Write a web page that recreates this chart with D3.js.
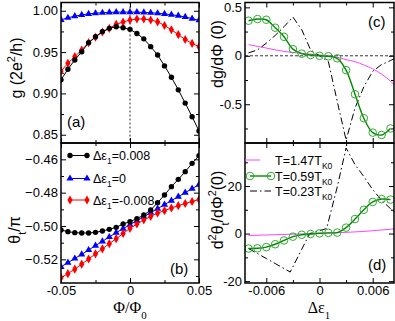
<!DOCTYPE html>
<html lang="en">
<head>
<meta charset="UTF-8">
<title>g and theta vs flux</title>
<style>
  body { margin: 0; background: #fff; }
  svg text { font-family: "Liberation Sans", Arial, sans-serif; }
</style>
</head>
<body>
<div class="chart"></div>
<script src="https://d3js.org/d3.v7.min.js"></script>
<script type="text/javascript">
// ---- data ----
var phi = [-0.05, -0.045, -0.04, -0.035, -0.03, -0.025, -0.02, -0.015, -0.01, -0.005, 0,
    0.005, 0.01, 0.015, 0.02, 0.025, 0.03, 0.035, 0.04, 0.045, 0.05];

// panel (a) conductance g
var gPos = [0.9164, 0.9293, 0.9405, 0.9505, 0.9614, 0.9686, 0.9748, 0.9787, 0.9807, 0.9795, 0.9775,
    0.9725, 0.966, 0.9566, 0.9465, 0.9333, 0.9196, 0.9043, 0.8883, 0.8718, 0.8545];
var gZero = [0.989, 0.9915, 0.9935, 0.995, 0.9962, 0.997, 0.9976, 0.998, 0.9983, 0.9984, 0.9984,
    0.9983, 0.998, 0.9976, 0.997, 0.9962, 0.9952, 0.994, 0.9925, 0.9905, 0.9885];
var gNeg = [0.927, 0.9365, 0.9445, 0.9526, 0.9614, 0.9679, 0.9743, 0.9787, 0.9836, 0.9864, 0.9888,
    0.990, 0.990, 0.9888, 0.9866, 0.9822, 0.977, 0.9712, 0.9652, 0.9605, 0.9565];

// panel (b) transmission phase theta_t / pi
var thPos = [-0.5024, -0.5034, -0.504, -0.5042, -0.5042, -0.5038, -0.503, -0.502, -0.5008, -0.4988, -0.4974,
    -0.4956, -0.4934, -0.4904, -0.486, -0.4814, -0.4764, -0.472, -0.4674, -0.4624, -0.4578];
var thZero = [-0.5245, -0.522, -0.5195, -0.517, -0.5144, -0.5118, -0.5092, -0.5066, -0.504, -0.5016, -0.4992,
    -0.4968, -0.4944, -0.492, -0.4896, -0.4872, -0.4848, -0.4824, -0.48, -0.4776, -0.4752];
var thNeg = [-0.531, -0.5286, -0.5259, -0.5229, -0.5198, -0.5167, -0.5137, -0.5106, -0.5076, -0.5045, -0.5014,
    -0.4988, -0.4963, -0.4943, -0.4922, -0.4908, -0.4892, -0.4878, -0.4865, -0.4853, -0.4841];

var legendB = ["0.008", "0", "-0.008"];

// panels (c), (d) vs level detuning
var eps = [-0.008, -0.007, -0.006, -0.005, -0.004, -0.003, -0.002, -0.001, 0,
    0.001, 0.002, 0.003, 0.004, 0.005, 0.006, 0.007, 0.008];
var dgMid = [0.362, 0.379, 0.372, 0.29, 0.196, 0.069, 0.022, 0.008, 0.0,
    -0.005, -0.026, -0.148, -0.396, -0.644, -0.793, -0.817, -0.75];
var d2Mid = [-6.3, -6.2, -5.7, -4.5, -2.9, -1.3, -0.5, -0.2, 0.1,
    0.3, 0.4, 2.5, 6.1, 10.0, 13.3, 14.5, 14.3];

var epsHot = [-0.008, -0.006, -0.004, -0.002, 0, 0.002, 0.003, 0.004, 0.005, 0.006, 0.007, 0.008, 0.0084];
var dgHot = [0.115, 0.08, 0.045, 0.025, 0.008, -0.015, -0.04, -0.06, -0.095, -0.135, -0.19, -0.26, -0.295];
var d2Hot = [-0.8, -0.6, -0.4, -0.15, 0.1, 0.35, 0.5, 0.7, 0.9, 1.2, 1.5, 1.8, 2.0];

var epsCold = [-0.008, -0.007, -0.006, -0.005, -0.004, -0.003, -0.002, -0.001, 0,
    0.001, 0.002, 0.003, 0.004, 0.005, 0.006, 0.007, 0.008, 0.0084];
var dgCold = [0.03, 0.06, 0.13, 0.21, 0.30, 0.40, 0.27, 0.06, 0.0,
    -0.06, -0.47, -0.87, -0.54, -0.32, -0.16, -0.09, -0.05, -0.03];
var epsCold2 = [-0.008, -0.007, -0.006, -0.005, -0.004, -0.0033, -0.002, -0.0011, 0,
    0.0008, 0.002, 0.003, 0.004, 0.005, 0.006, 0.007, 0.008, 0.0084];
var d2Cold = [-6.3, -8.4, -10.5, -12.6, -14.7, -16.2, -6.6, 0, 1.2,
    2.1, 19.6, 36, 29, 24, 18.5, 14, 10.5, 9];

var legendD = ["1.47", "0.59", "0.23"];

// ---- layout ----
var width = 395, height = 321;
var leftX = [61, 199], rightX = [245, 394];
var topY = [2.5, 143], botY = [143, 283];

var svg = d3.select(".chart").append("svg")
    .attr("width", width)
    .attr("height", height);

var xPhi = d3.scaleLinear().domain([-0.05, 0.05]).range(leftX);
var xEps = d3.scaleLinear().domain([-0.0084, 0.0084]).range(rightX);
var yA = d3.scaleLinear().domain([0.84, 1.01]).range([topY[1], topY[0]]);
var yB = d3.scaleLinear().domain([-0.5342, -0.4502]).range([botY[1], botY[0]]);
var yC = d3.scaleLinear().domain([-0.9, 0.55]).range([topY[1], topY[0]]);
var yD = d3.scaleLinear().domain([-20.8, 38.1]).range([botY[1], botY[0]]);

var fmt2 = d3.format(".2f");
function fmtPlain(d) { return d === 0 ? "0" : String(d); }

function rich(t, parts, fs) {
    var cur = 0;
    parts.forEach(function(p) {
        var s = p[1] || 0;
        var target = s > 0 ? fs * 0.35 : (s < 0 ? -fs * 0.42 : 0);
        t.append("tspan")
            .attr("dy", (target - cur).toFixed(2))
            .attr("font-size", s ? fs * 0.68 : fs)
            .text(p[0]);
        cur = target;
    });
}

function panel(id, x, y, opt) {
    var g = svg.append("g");
    var x0 = x.range()[0], x1 = x.range()[1];
    var y0 = y.range()[1], y1 = y.range()[0];

    svg.append("clipPath").attr("id", "clip" + id)
        .append("rect").attr("x", x0).attr("y", y0).attr("width", x1 - x0).attr("height", y1 - y0);

    // ticks on all four sides, pointing in
    function ax(gen, tr, vals, size, labels) {
        var a = gen.tickValues(vals).tickSizeInner(-size).tickSizeOuter(0).tickPadding(3)
            .tickFormat(labels ? labels : "");
        var s = g.append("g").attr("transform", tr).call(a);
        s.select(".domain").remove();
        s.selectAll("line").attr("stroke", "#000").attr("stroke-width", 1);
        s.selectAll("text").attr("font-size", 13).attr("fill", "#000");
        return s;
    }
    ax(d3.axisLeft(y), "translate(" + x0 + ",0)", opt.yMajor, 5, opt.yFmt);
    ax(d3.axisLeft(y), "translate(" + x0 + ",0)", opt.yMinor, 3, null);
    ax(d3.axisRight(y), "translate(" + x1 + ",0)", opt.yMajor, 5, null);
    ax(d3.axisRight(y), "translate(" + x1 + ",0)", opt.yMinor, 3, null);
    ax(d3.axisTop(x), "translate(0," + y0 + ")", opt.xMajor, 5, null);
    ax(d3.axisTop(x), "translate(0," + y0 + ")", opt.xMinor, 3, null);
    ax(d3.axisBottom(x), "translate(0," + y1 + ")", opt.xMajor, 5, opt.xFmt);
    ax(d3.axisBottom(x), "translate(0," + y1 + ")", opt.xMinor, 3, null);

    var plot = svg.append("g").attr("clip-path", "url(#clip" + id + ")");
    svg.append("rect").attr("x", x0).attr("y", y0).attr("width", x1 - x0).attr("height", y1 - y0)
        .attr("fill", "none").attr("stroke", "#000").attr("stroke-width", 1.5);
    return plot;
}

function series(plot, x, y, xs, ys, color, sym, curve, dash, lw) {
    var pts = xs.map(function(d, i) { return [d, ys[i]]; });
    var line = d3.line().x(function(d) { return x(d[0]); }).y(function(d) { return y(d[1]); })
        .curve(curve || d3.curveLinear);
    plot.append("path").datum(pts).attr("d", line)
        .attr("fill", "none").attr("stroke", color).attr("stroke-width", lw || 1)
        .attr("stroke-dasharray", dash || null);
    if (sym) drawSym(plot, pts.map(function(d) { return [x(d[0]), y(d[1])]; }), sym);
}

function drawSym(g, pts, sym) {
    pts.forEach(function(p) {
        if (sym === "circle") {
            g.append("circle").attr("cx", p[0]).attr("cy", p[1]).attr("r", 2.7).attr("fill", "#000");
        } else if (sym === "ring") {
            g.append("circle").attr("cx", p[0]).attr("cy", p[1]).attr("r", 3.8)
                .attr("fill", "none").attr("stroke", "#33aa33").attr("stroke-width", 1);
        } else if (sym === "tri") {
            g.append("path").attr("transform", "translate(" + p[0] + "," + p[1] + ")")
                .attr("d", d3.symbol(d3.symbolTriangle, 22)()).attr("fill", "#0000ff");
        } else if (sym === "diamond") {
            g.append("path").attr("transform", "translate(" + p[0] + "," + p[1] + ")")
                .attr("d", d3.symbol(d3.symbolDiamond, 24)()).attr("fill", "#ff0000");
        }
    });
}

// ---- panel (a) ----
var pA = panel("a", xPhi, yA, {
    yMajor: [0.85, 0.90, 0.95, 1.00], yMinor: [0.875, 0.925, 0.975], yFmt: fmt2,
    xMajor: [-0.05, 0, 0.05], xMinor: [-0.025, 0.025], xFmt: ""
});
pA.append("line").attr("x1", xPhi(0)).attr("x2", xPhi(0)).attr("y1", topY[0]).attr("y2", topY[1])
    .attr("stroke", "#000").attr("stroke-width", 0.8).attr("stroke-dasharray", "2,2");
series(pA, xPhi, yA, phi, gZero, "#0000ff", "tri");
series(pA, xPhi, yA, phi, gNeg, "#ff0000", "diamond");
series(pA, xPhi, yA, phi, gPos, "#000", "circle");

// ---- panel (b) ----
var pB = panel("b", xPhi, yB, {
    yMajor: [-0.52, -0.50, -0.48, -0.46], yMinor: [-0.53, -0.51, -0.49, -0.47], yFmt: fmt2,
    xMajor: [-0.05, 0, 0.05], xMinor: [-0.025, 0.025], xFmt: fmtPlain
});
series(pB, xPhi, yB, phi, thZero, "#0000ff", "tri");
series(pB, xPhi, yB, phi, thNeg, "#ff0000", "diamond");
series(pB, xPhi, yB, phi, thPos, "#000", "circle");

var legB = [["#000", "circle"], ["#0000ff", "tri"], ["#ff0000", "diamond"]];
var legBy = [155.5, 178.5, 200];
legB.forEach(function(l, i) {
    svg.append("line").attr("x1", 70).attr("x2", 87).attr("y1", legBy[i]).attr("y2", legBy[i])
        .attr("stroke", l[0]).attr("stroke-width", 1);
    drawSym(svg, [[70, legBy[i]], [87, legBy[i]]], l[1]);
    var t = svg.append("text").attr("x", 93).attr("y", legBy[i] + 4.5).attr("font-size", 12.5);
    rich(t, [["Δε", 0], ["1", 1], ["=" + legendB[i], 0]], 12.5);
});

// ---- panel (c) ----
var pC = panel("c", xEps, yC, {
    yMajor: [-0.5, 0, 0.5], yMinor: [-0.75, -0.25, 0.25], yFmt: fmtPlain,
    xMajor: [-0.006, 0, 0.006], xMinor: [-0.003, 0.003], xFmt: ""
});
pC.append("line").attr("x1", rightX[0]).attr("x2", rightX[1]).attr("y1", yC(0)).attr("y2", yC(0))
    .attr("stroke", "#000").attr("stroke-width", 0.8).attr("stroke-dasharray", "3,2");
series(pC, xEps, yC, epsHot, dgHot, "#ff44ff", null, d3.curveMonotoneX);
series(pC, xEps, yC, epsCold, dgCold, "#000", null, d3.curveLinear, "7,3,1.5,3");
series(pC, xEps, yC, eps, dgMid, "#008800", "ring", d3.curveCatmullRom, null, 1.4);

// ---- panel (d) ----
var pD = panel("d", xEps, yD, {
    yMajor: [-20, 0, 20], yMinor: [-10, 10, 30], yFmt: fmtPlain,
    xMajor: [-0.006, 0, 0.006], xMinor: [-0.003, 0.003], xFmt: fmtPlain
});
series(pD, xEps, yD, epsHot, d2Hot, "#ff44ff", null, d3.curveMonotoneX);
series(pD, xEps, yD, epsCold2, d2Cold, "#000", null, d3.curveLinear, "7,3,1.5,3");
series(pD, xEps, yD, eps, d2Mid, "#008800", "ring", d3.curveCatmullRom, null, 1.4);

var legDy = [160, 176, 191];
var legDc = ["#ff44ff", "#008800", "#000"];
legendD.forEach(function(v, i) {
    var x1 = i === 0 ? 245 : 250, x2 = i === 0 ? 260 : 271;
    svg.append("line").attr("x1", x1).attr("x2", x2).attr("y1", legDy[i]).attr("y2", legDy[i])
        .attr("stroke", legDc[i]).attr("stroke-width", i === 1 ? 1.4 : 1)
        .attr("stroke-dasharray", i === 2 ? "7,3,1.5,3" : null);
    if (i === 1) drawSym(svg, [[x1, legDy[i]], [x2, legDy[i]]], "ring");
    var t = svg.append("text").attr("x", 275).attr("y", legDy[i] + 4.5).attr("font-size", 12.5);
    rich(t, [["T=" + v + "T", 0], ["K0", 1]], 12.5);
});

// ---- panel tags ----
[["(a)", 67, 127], ["(b)", 170, 274], ["(c)", 368, 27], ["(d)", 368, 270]].forEach(function(p) {
    svg.append("text").attr("x", p[1]).attr("y", p[2]).attr("font-size", 15).text(p[0]);
});

// ---- axis titles ----
function vtitle(x, y, parts, fs) {
    var t = svg.append("text").attr("transform", "translate(" + x + "," + y + ") rotate(-90)")
        .attr("text-anchor", "middle").attr("font-size", fs);
    rich(t, parts, fs);
}
vtitle(22, 68, [["g (2e", 0], ["2", -1], ["/h)", 0]], 16);
vtitle(20, 230, [["θ", 0], ["t", 1], ["/π", 0]], 16);
vtitle(223, 54, [["dg/dΦ (0)", 0]], 16);
vtitle(223, 210, [["d", 0], ["2", -1], ["θ", 0], ["t", 1], ["/dΦ", 0], ["2", -1], ["(0)", 0]], 16);

var serif = '"Liberation Serif", "Times New Roman", serif';
var tx1 = svg.append("text").attr("x", 130).attr("y", 313).attr("text-anchor", "middle")
    .attr("font-size", 16).style("font-family", serif);
rich(tx1, [["Φ/Φ", 0], ["0", 1]], 16);
var tx2 = svg.append("text").attr("x", 319).attr("y", 313).attr("text-anchor", "middle")
    .attr("font-size", 16).style("font-family", serif);
rich(tx2, [["Δε", 0], ["1", 1]], 16);
</script>
</body>
</html>
